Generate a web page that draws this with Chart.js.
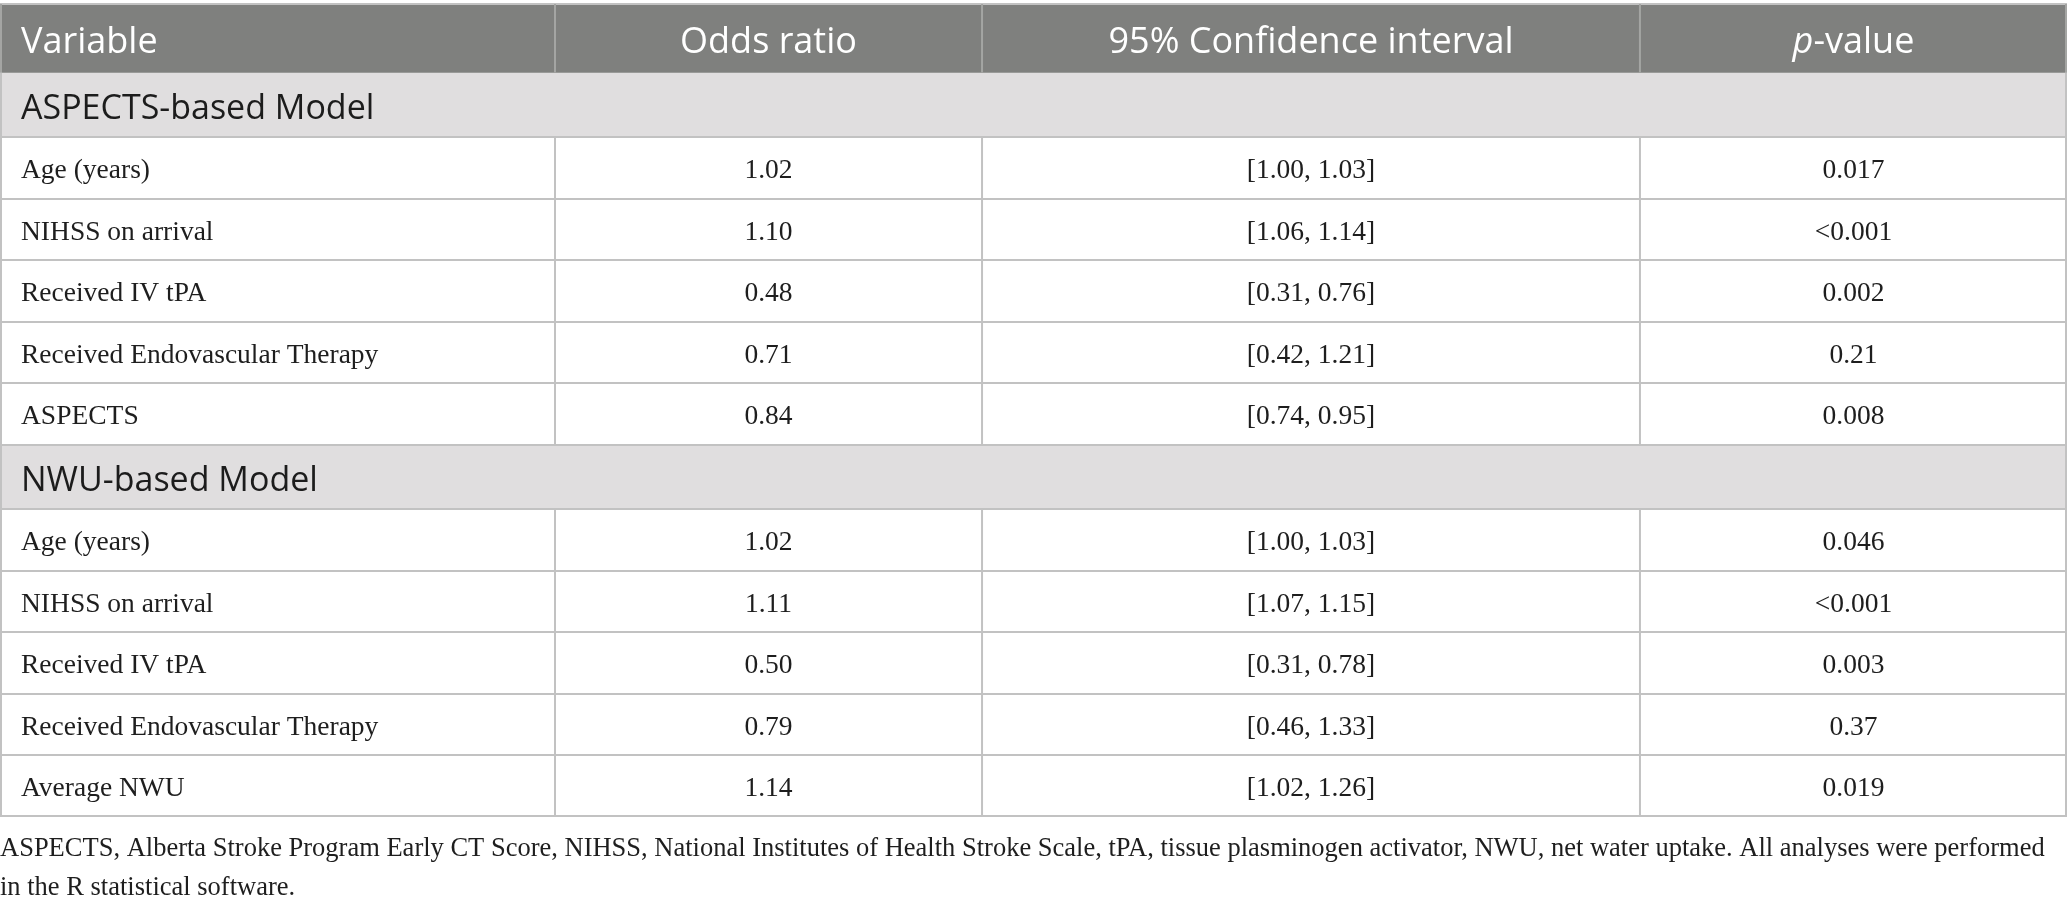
<!DOCTYPE html>
<html>
<head>
<meta charset="utf-8">
<script src="https://cdn.jsdelivr.net/npm/chart.js@4.4.1/dist/chart.umd.min.js"></script>
<style>
    html, body { margin: 0; padding: 0; background: #fff; }
    #wrap { width: 2067px; height: 907px; }
</style>
</head>
<body>
<div id="wrap"><canvas id="oddsTable" width="2067" height="907"></canvas></div>
<script>
// table content
const columns = ['Variable', 'Odds ratio', '95% Confidence interval', 'p-value'];
const sections = ['ASPECTS-based Model', 'NWU-based Model'];

const aspectsVariables = ['Age (years)', 'NIHSS on arrival', 'Received IV tPA', 'Received Endovascular Therapy', 'ASPECTS'];
const aspectsOdds = ['1.02', '1.10', '0.48', '0.71', '0.84'];
const aspectsCI = ['[1.00, 1.03]', '[1.06, 1.14]', '[0.31, 0.76]', '[0.42, 1.21]', '[0.74, 0.95]'];
const aspectsP = ['0.017', '<0.001', '0.002', '0.21', '0.008'];

const nwuVariables = ['Age (years)', 'NIHSS on arrival', 'Received IV tPA', 'Received Endovascular Therapy', 'Average NWU'];
const nwuOdds = ['1.02', '1.11', '0.50', '0.79', '1.14'];
const nwuCI = ['[1.00, 1.03]', '[1.07, 1.15]', '[0.31, 0.78]', '[0.46, 1.33]', '[1.02, 1.26]'];
const nwuP = ['0.046', '<0.001', '0.003', '0.37', '0.019'];

const footnoteLines = [
    'ASPECTS, Alberta Stroke Program Early CT Score, NIHSS, National Institutes of Health Stroke Scale, tPA, tissue plasminogen activator, NWU, net water uptake. All analyses were performed',
    'in the R statistical software.'
];

// layout: columns in percent of table width, rows in height units
const colEdges = [0, 26.85, 47.51, 79.34, 100];
const rowHeight = { head: 68.5, section: 64.5, data: 61.5 };
const headBg = '#7f807e';
const sectionBg = '#e0dedf';
const lineColor = '#c2c2c2';
const sansFont = '"Open Sans", "Noto Sans", sans-serif';
const serifFont = '"Liberation Serif", "DejaVu Serif", serif';

// build rows
let rows = [{ kind: 'head', cells: columns }];
rows.push({ kind: 'section', cells: [sections[0]] });
aspectsVariables.forEach((v, i) => {
    rows.push({ kind: 'data', cells: [v, aspectsOdds[i], aspectsCI[i], aspectsP[i]] });
});
rows.push({ kind: 'section', cells: [sections[1]] });
nwuVariables.forEach((v, i) => {
    rows.push({ kind: 'data', cells: [v, nwuOdds[i], nwuCI[i], nwuP[i]] });
});

// row top / bottom in units
let acc = 0;
rows.forEach(r => {
    r.top = acc;
    acc += rowHeight[r.kind];
    r.bottom = acc;
});
const totalHeight = acc;

// one background bar per shaded row, all overlapping in the single x slot
const shadedRows = rows.filter(r => r.kind !== 'data');
const bgDatasets = shadedRows.map((r, i) => ({
    label: r.kind + i,
    data: [[r.top, r.bottom]],
    backgroundColor: r.kind === 'head' ? headBg : sectionBg,
    borderWidth: 0,
    grouped: false,
    barPercentage: 1,
    categoryPercentage: 1,
    xAxisID: 'x',
    yAxisID: 'y'
}));

const tablePlugin = {
    id: 'tablePlugin',
    afterDatasetsDraw(chart) {
        const ctx = chart.ctx;
        const x = chart.scales.col;
        const y = chart.scales.y;
        const area = chart.chartArea;
        const left = x.getPixelForValue(0);
        const right = x.getPixelForValue(100);
        ctx.save();

        // horizontal lines
        ctx.strokeStyle = lineColor;
        ctx.lineWidth = 2;
        rows.forEach((r, i) => {
            if (i === 1) return;
            const py = Math.round(y.getPixelForValue(r.top));
            ctx.beginPath();
            ctx.moveTo(left, py);
            ctx.lineTo(right, py);
            ctx.stroke();
        });
        const by = Math.round(y.getPixelForValue(totalHeight)) - 1;
        ctx.beginPath();
        ctx.moveTo(left, by);
        ctx.lineTo(right, by);
        ctx.stroke();

        // vertical lines
        rows.forEach(r => {
            const top = y.getPixelForValue(r.top);
            const bottom = y.getPixelForValue(r.bottom);
            const edges = r.kind === 'section' ? [0, 100] : colEdges;
            ctx.strokeStyle = r.kind === 'head' ? '#a4a5a3' : lineColor;
            edges.forEach(e => {
                let px = x.getPixelForValue(e);
                if (e === 0) px += 1;
                if (e === 100) px -= 1;
                ctx.beginPath();
                ctx.moveTo(px, top);
                ctx.lineTo(px, bottom);
                ctx.stroke();
            });
        });

        // text
        ctx.textBaseline = 'middle';
        rows.forEach(r => {
            const cy = y.getPixelForValue((r.top + r.bottom) / 2);
            r.cells.forEach((txt, c) => {
                const cx0 = x.getPixelForValue(colEdges[c]);
                const cx1 = x.getPixelForValue(colEdges[c + 1]);
                if (r.kind === 'head') {
                    ctx.fillStyle = '#ffffff';
                    const f = '36px ' + sansFont;
                    const ty = cy + 4.5;
                    ctx.font = f;
                    if (c === 0) {
                        ctx.textAlign = 'left';
                        ctx.fillText(txt, cx0 + 21, ty);
                    } else if (txt.startsWith('p-')) {
                        const rest = txt.slice(1);
                        ctx.font = 'italic ' + f;
                        const w1 = ctx.measureText('p').width;
                        ctx.font = f;
                        const w2 = ctx.measureText(rest).width;
                        const sx = (cx0 + cx1) / 2 - (w1 + w2) / 2;
                        ctx.textAlign = 'left';
                        ctx.font = 'italic ' + f;
                        ctx.fillText('p', sx, ty);
                        ctx.font = f;
                        ctx.fillText(rest, sx + w1, ty);
                    } else {
                        ctx.textAlign = 'center';
                        ctx.fillText(txt, (cx0 + cx1) / 2, ty);
                    }
                } else if (r.kind === 'section') {
                    ctx.fillStyle = '#1c1c1c';
                    ctx.font = '34px ' + sansFont;
                    ctx.textAlign = 'left';
                    ctx.fillText(txt, cx0 + 21, cy + 4.5);
                } else {
                    ctx.fillStyle = '#1e1e1e';
                    ctx.font = '27.5px ' + serifFont;
                    ctx.textAlign = c === 0 ? 'left' : 'center';
                    ctx.fillText(txt, c === 0 ? cx0 + 21 : (cx0 + cx1) / 2, cy + 3.5);
                }
            });
        });

        // footnote
        ctx.fillStyle = '#1e1e1e';
        ctx.font = '26.5px ' + serifFont;
        ctx.textAlign = 'left';
        footnoteLines.forEach((line, i) => {
            ctx.fillText(line, left, area.bottom + 33 + i * 39);
        });
        ctx.restore();
    }
};

const ctx = document.getElementById('oddsTable').getContext('2d');
const tableChart = new Chart(ctx, {
    type: 'bar',
    data: {
        labels: ['table'],
        datasets: bgDatasets
    },
    options: {
        responsive: false,
        animation: false,
        devicePixelRatio: 1,
        layout: { padding: { top: 4, bottom: 907 - 4 - totalHeight, left: 0, right: 0 } },
        plugins: {
            legend: { display: false },
            tooltip: { enabled: false },
            title: { display: false }
        },
        scales: {
            x: { type: 'category', display: false, offset: true },
            col: { type: 'linear', axis: 'x', min: 0, max: 100, offset: false, display: false },
            y: { type: 'linear', min: 0, max: totalHeight, reverse: true, display: false }
        }
    },
    plugins: [tablePlugin]
});
</script>
</body>
</html>
